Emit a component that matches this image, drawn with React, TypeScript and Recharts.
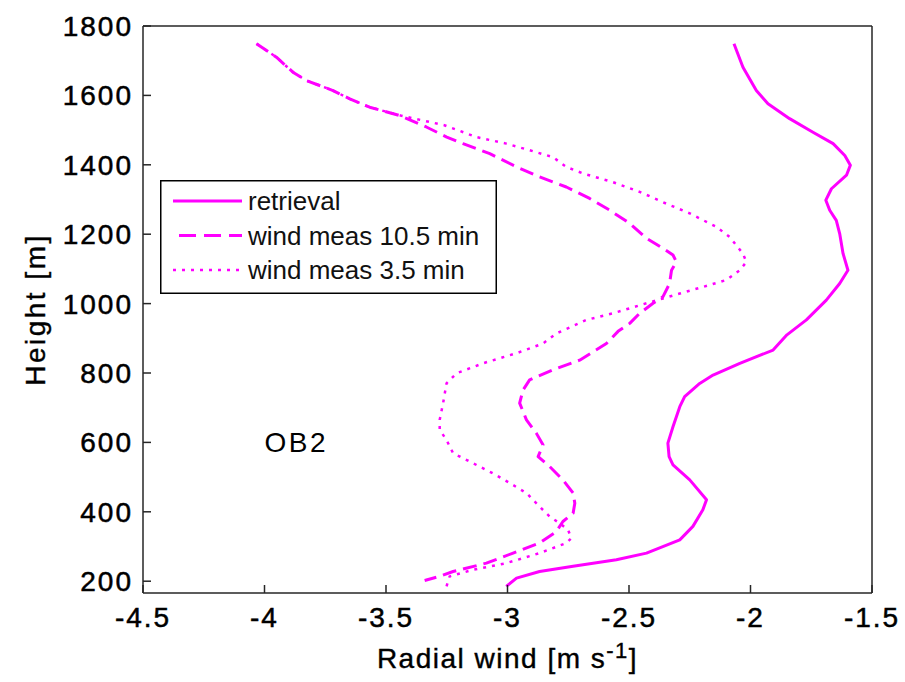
import { Label, Legend, Line, LineChart, ReferenceDot, XAxis, YAxis } from "recharts";

const WIND_TICKS = [-4.5, -4, -3.5, -3, -2.5, -2, -1.5];
const HEIGHT_TICKS = [200, 400, 600, 800, 1000, 1200, 1400, 1600, 1800];

// [radial wind (m/s), height (m)], read from top of the profile down
const RETRIEVAL: [number, number][] = [
  [-2.068, 1749], [-2.031, 1681], [-1.976, 1614], [-1.928, 1576], [-1.839, 1533],
  [-1.743, 1494], [-1.66, 1461], [-1.612, 1427], [-1.589, 1399], [-1.605, 1370],
  [-1.667, 1331], [-1.69, 1298], [-1.674, 1269], [-1.647, 1240], [-1.633, 1202],
  [-1.619, 1144], [-1.599, 1096], [-1.633, 1058], [-1.688, 1010], [-1.77, 953],
  [-1.85, 910], [-1.907, 866], [-2.044, 828], [-2.154, 794], [-2.209, 770],
  [-2.271, 732], [-2.291, 703], [-2.319, 645], [-2.34, 598], [-2.335, 559],
  [-2.319, 535], [-2.25, 492], [-2.181, 435], [-2.196, 406], [-2.237, 358],
  [-2.291, 319], [-2.428, 281], [-2.552, 262], [-2.73, 243], [-2.868, 228],
  [-2.963, 209], [-3.005, 185],
];

const MEAS_10_5: [number, number][] = [
  [-4.033, 1749], [-3.951, 1710], [-3.883, 1667], [-3.828, 1643], [-3.718, 1614],
  [-3.649, 1590], [-3.567, 1566], [-3.444, 1542], [-3.334, 1509], [-3.25, 1480],
  [-3.183, 1461], [-3.073, 1432], [-2.963, 1394], [-2.868, 1365], [-2.758, 1336],
  [-2.662, 1303], [-2.579, 1269], [-2.497, 1231], [-2.428, 1188], [-2.36, 1159],
  [-2.319, 1140], [-2.305, 1120], [-2.325, 1096], [-2.333, 1058], [-2.36, 1020],
  [-2.401, 1001], [-2.456, 972], [-2.497, 943], [-2.545, 920], [-2.593, 885],
  [-2.703, 837], [-2.813, 809], [-2.909, 780], [-2.936, 751], [-2.95, 713],
  [-2.922, 665], [-2.881, 626], [-2.854, 593], [-2.874, 559], [-2.826, 530],
  [-2.772, 492], [-2.73, 454], [-2.723, 425], [-2.73, 396], [-2.772, 372],
  [-2.799, 343], [-2.868, 310], [-2.977, 281], [-3.087, 252], [-3.224, 228],
  [-3.279, 214], [-3.341, 202],
];

const MEAS_3_5: [number, number][] = [
  [-4.033, 1749], [-3.951, 1710], [-3.883, 1667], [-3.828, 1643], [-3.718, 1614],
  [-3.649, 1590], [-3.567, 1566], [-3.44, 1542], [-3.26, 1514], [-3.128, 1480],
  [-3.005, 1461], [-2.909, 1442], [-2.813, 1422], [-2.758, 1394], [-2.689, 1375],
  [-2.566, 1350], [-2.456, 1322], [-2.346, 1288], [-2.25, 1260], [-2.14, 1221],
  [-2.086, 1192], [-2.031, 1144], [-2.017, 1120], [-2.044, 1096], [-2.099, 1068],
  [-2.196, 1048], [-2.291, 1029], [-2.428, 1001], [-2.566, 972], [-2.675, 953],
  [-2.799, 914], [-2.854, 885], [-2.963, 857], [-3.101, 828], [-3.21, 799],
  [-3.251, 770], [-3.265, 713], [-3.279, 665], [-3.279, 636], [-3.251, 607],
  [-3.224, 569], [-3.142, 540], [-3.06, 511], [-2.991, 483], [-2.922, 454],
  [-2.868, 415], [-2.826, 386], [-2.785, 367], [-2.751, 348], [-2.737, 324],
  [-2.758, 310], [-2.868, 281], [-3.005, 252], [-3.142, 233], [-3.238, 214],
  [-3.251, 185],
];

const SERIES_NAMES = ["retrieval", "wind meas 10.5 min", "wind meas 3.5 min"];

const MAGENTA = "#ff00ff";
const AXIS = "#262626";
const FONT = "Arial, 'Liberation Sans', Helvetica, sans-serif";

const toRows = (pts: [number, number][]) => pts.map(([w, h]) => ({ w, h }));

const LINE_STYLES = [
  { width: 3, dash: undefined as string | undefined },
  { width: 3, dash: "14 7" },
  { width: 2.5, dash: "3 6" },
];

function LegendBox() {
  return (
    <svg width={337} height={114} style={{ display: "block" }}>
      <rect x={0.75} y={0.75} width={335.5} height={112.5} fill="#fff" stroke="#000" strokeWidth={1.5} />
      {SERIES_NAMES.map((name, i) => {
        const y = 21 + i * 34.5;
        return (
          <g key={name}>
            <line
              x1={i === 1 ? 19 : 13}
              x2={82}
              y1={y}
              y2={y}
              stroke={MAGENTA}
              strokeWidth={LINE_STYLES[i].width}
              strokeDasharray={i === 1 ? "17 8" : LINE_STYLES[i].dash}
            />
            <text x={88} y={y} dominantBaseline="central" fontSize={26} fill="#111" fontFamily={FONT}>
              {name}
            </text>
          </g>
        );
      })}
    </svg>
  );
}

// the source's text is heavy from upscaling, a hairline stroke mimics that
const tickStyle = { fill: "#000", stroke: "#000", strokeWidth: 0.5, fontSize: 28, letterSpacing: 2, fontFamily: FONT };

export default function App() {
  return (
    <div style={{ position: "absolute", left: 0, top: 0, width: 905, height: 682, background: "#fff" }}>
      <LineChart
        width={905}
        height={682}
        margin={{ top: 25, right: 32, bottom: 0, left: 0 }}
        style={{ fontFamily: FONT }}
      >
        <XAxis
          xAxisId="b"
          type="number"
          dataKey="w"
          domain={[-4.5, -1.5]}
          ticks={WIND_TICKS}
          allowDataOverflow
          height={89}
          stroke={AXIS}
          strokeWidth={1.5}
          tickSize={-8}
          tickMargin={22}
          tick={tickStyle}
          tickFormatter={(v) => String(v)}
        >
          <Label
            position="bottom"
            content={({ viewBox }: any) => (
              <text
                x={viewBox.x + viewBox.width / 2}
                y={668}
                textAnchor="middle"
                fontSize={28}
                letterSpacing={1.5}
                fill="#000"
                stroke="#000"
                strokeWidth={0.4}
                fontFamily={FONT}
              >
                Radial wind [m s
                <tspan dy={-10} fontSize={22}>-1</tspan>
                <tspan dy={10}>]</tspan>
              </text>
            )}
          />
        </XAxis>
        <XAxis
          xAxisId="t"
          orientation="top"
          type="number"
          dataKey="w"
          domain={[-4.5, -1.5]}
          ticks={WIND_TICKS}
          allowDataOverflow
          height={1}
          stroke={AXIS}
          strokeWidth={1.5}
          tickSize={-8}
          tick={false}
        />
        <YAxis
          yAxisId="l"
          type="number"
          dataKey="h"
          domain={[166, 1800]}
          ticks={HEIGHT_TICKS}
          allowDataOverflow
          width={143}
          stroke={AXIS}
          strokeWidth={1.5}
          tickSize={-8}
          tickMargin={18}
          tick={tickStyle}
        >
          <Label
            position="center"
            content={({ viewBox }: any) => {
              const cy = viewBox.y + viewBox.height / 2;
              return (
                <text
                  x={35}
                  y={cy}
                  transform={`rotate(-90 35 ${cy})`}
                  textAnchor="middle"
                  dominantBaseline="central"
                  fontSize={28}
                  letterSpacing={2.5}
                  fill="#000"
                  stroke="#000"
                  strokeWidth={0.4}
                  fontFamily={FONT}
                >
                  Height [m]
                </text>
              );
            }}
          />
        </YAxis>
        <YAxis
          yAxisId="r"
          orientation="right"
          type="number"
          dataKey="h"
          domain={[166, 1800]}
          ticks={HEIGHT_TICKS}
          allowDataOverflow
          width={1}
          stroke={AXIS}
          strokeWidth={1.5}
          tickSize={-8}
          tick={false}
        />
        {[RETRIEVAL, MEAS_10_5, MEAS_3_5].map((pts, i) => (
          <Line
            key={SERIES_NAMES[i]}
            name={SERIES_NAMES[i]}
            data={toRows(pts)}
            xAxisId="b"
            yAxisId="l"
            dataKey="h"
            type="linear"
            stroke={MAGENTA}
            strokeWidth={LINE_STYLES[i].width}
            strokeDasharray={LINE_STYLES[i].dash}
            strokeLinejoin="round"
            dot={false}
            activeDot={false}
            isAnimationActive={false}
          />
        ))}
        <ReferenceDot
          xAxisId="b"
          yAxisId="l"
          x={-4}
          y={600}
          r={0}
          fill="none"
          stroke="none"
          label={{ value: "OB2", position: "right", offset: 0, fontSize: 28, letterSpacing: 2.5, fill: "#000" }}
        />
        <Legend
          layout="horizontal"
          verticalAlign="middle"
          align="center"
          wrapperStyle={{ position: "absolute", left: 160, top: 180, width: 337, height: 114 }}
          content={() => <LegendBox />}
        />
      </LineChart>
    </div>
  );
}
